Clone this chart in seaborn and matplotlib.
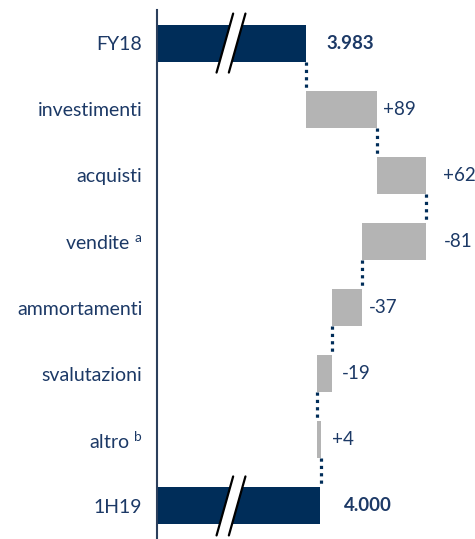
import matplotlib
matplotlib.use("Agg")
import matplotlib.pyplot as plt
import seaborn as sns
import pandas as pd
import numpy as np

categories = ["FY18", "investimenti", "acquisti", r"vendite $\mathregular{^{a}}$", "ammortamenti",
              "svalutazioni", r"altro $\mathregular{^{b}}$", "1H19"]
changes = [89, 62, -81, -37, -19, 4]
start_total = 3983
end_total = 4000
value_labels = ["3.983", "+89", "+62", "-81", "-37", "-19", "+4", "4.000"]
label_offsets_px = [20, 6, 17, 18, 7, 9, 11, 24]

NAVY = "#002d59"
TEXT = "#1c3966"
GRAY = "#b4b4b4"

# waterfall geometry from the data
cum = [start_total]
for c in changes:
    cum.append(cum[-1] + c)
lefts = [0]
widths = [start_total]
for i, c in enumerate(changes):
    lo = min(cum[i], cum[i + 1])
    lefts.append(lo)
    widths.append(abs(c))
lefts.append(0)
widths.append(end_total)
rights = [l + w for l, w in zip(lefts, widths)]
colors = [NAVY] + [GRAY] * len(changes) + [NAVY]

df = pd.DataFrame({"cat": categories, "width": widths})

sns.set_theme(style="white")
plt.rcParams["font.family"] = ["Lato", "DejaVu Sans"]
plt.rcParams["mathtext.fontset"] = "custom"
plt.rcParams["mathtext.rm"] = "Lato"

W, H = 475, 539
fig = plt.figure(figsize=(W / 100, H / 100), dpi=100)
ax_left_px, ax_right_px, ax_top_px = 157, 470, 10
ax = fig.add_axes([ax_left_px / W, 0, (ax_right_px - ax_left_px) / W, 1 - ax_top_px / H])

sns.barplot(data=df, y="cat", x="width", orient="h", width=0.56, ax=ax,
            color=GRAY, saturation=1, linewidth=0)
for p, l, c in zip(ax.patches, lefts, colors):
    p.set_x(l)
    p.set_facecolor(c)
    p.set_edgecolor("none")

xmin = 3794
px_per_unit = 0.79
xmax = xmin + (ax_right_px - ax_left_px) / px_per_unit
ax.set_xlim(xmin, xmax)
ax.set_ylim(len(categories) - 0.5, -0.5)
row_px = (H - ax_top_px) / len(categories)

# connectors
hh = 0.28
for i in range(len(categories) - 1):
    x = cum[i] if i < len(categories) - 2 else cum[-1]
    ax.plot([x, x], [i + hh, i + 1 - hh], color=NAVY, lw=2.3,
            linestyle=(0, (1.0, 1.3)), solid_capstyle="butt", zorder=1)

# value labels
for i, (lab, r, off) in enumerate(zip(value_labels, rights, label_offsets_px)):
    bold = i in (0, len(categories) - 1)
    ax.text(r + off / px_per_unit, i, lab, ha="left", va="center", fontsize=13.5,
            color=TEXT, fontweight="bold" if bold else "normal")

# axis break marks
bx = xmin + (231 - ax_left_px) / px_per_unit
dx = 16.6 / px_per_unit / 2
dy = 59 / row_px / 2
gap = 12.3 / px_per_unit
for i in (0, len(categories) - 1):
    xs1 = [bx - gap / 2 - dx, bx - gap / 2 + dx]
    xs2 = [bx + gap / 2 - dx, bx + gap / 2 + dx]
    ys = [i + dy, i - dy]
    ax.fill([xs1[0], xs1[1], xs2[1], xs2[0]], [ys[0], ys[1], ys[1], ys[0]],
            color="white", zorder=5, clip_on=False, lw=0)
    ax.plot(xs1, ys, color="black", lw=1.6, zorder=6, clip_on=False)
    ax.plot(xs2, ys, color="black", lw=1.6, zorder=6, clip_on=False)

for s in ["top", "right", "bottom"]:
    ax.spines[s].set_visible(False)
ax.spines["left"].set_color("#2b3f5c")
ax.spines["left"].set_linewidth(1.5)
ax.set_xticks([])
ax.set_xlabel("")
ax.set_ylabel("")
ax.tick_params(axis="y", length=0, pad=10.5, labelsize=14, labelcolor=TEXT)

fig.savefig("out.png", dpi=100)
